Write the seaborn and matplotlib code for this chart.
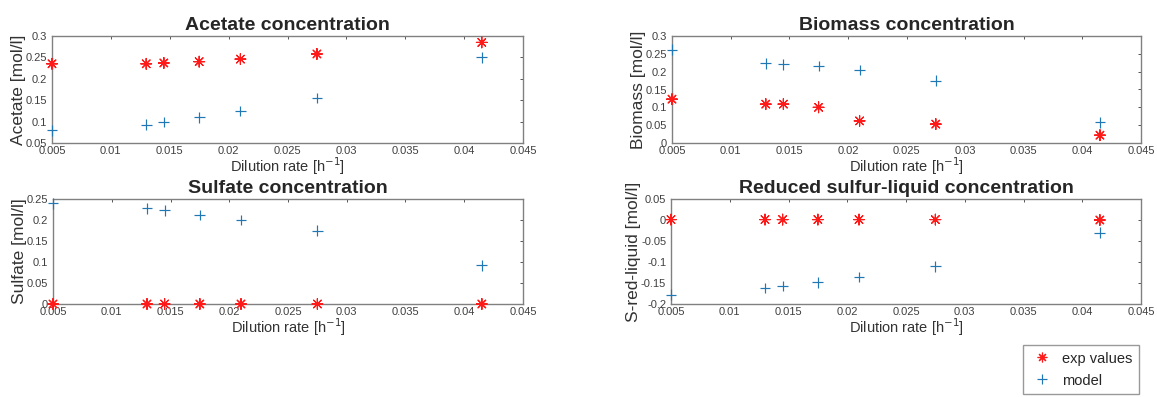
import numpy as np
import pandas as pd
import seaborn as sns
import matplotlib.pyplot as plt

# Dilution rates [1/h]
dilution = [0.005, 0.013, 0.0145, 0.0175, 0.021, 0.0275, 0.0415]

acetate_exp = [0.235, 0.235, 0.237, 0.240, 0.246, 0.258, 0.285]
acetate_model = [0.080, 0.093, 0.099, 0.110, 0.125, 0.155, 0.250]

biomass_exp = [0.123, 0.109, 0.109, 0.100, 0.062, 0.053, 0.022]
biomass_model = [0.262, 0.223, 0.221, 0.216, 0.205, 0.175, 0.058]

sulfate_exp = [0.0, 0.0, 0.0, 0.0, 0.0, 0.0, 0.0]
sulfate_model = [0.240, 0.228, 0.223, 0.212, 0.200, 0.175, 0.092]

sred_exp = [0.001, 0.001, 0.001, 0.001, 0.001, 0.001, 0.0]
sred_model = [-0.178, -0.162, -0.157, -0.148, -0.136, -0.110, -0.030]

titles = ["Acetate concentration", "Biomass concentration",
          "Sulfate concentration", "Reduced sulfur-liquid concentration"]
ylabels = ["Acetate [mol/l]", "Biomass [mol/l]", "Sulfate [mol/l]", "S-red-liquid [mol/l]"]
ylims = [(0.05, 0.3), (0, 0.3), (0, 0.25), (-0.2, 0.05)]

sns.set_style("white")
plt.rcParams['font.family'] = ['Liberation Sans', 'DejaVu Sans']

W, H = 1157, 397
fig = plt.figure(figsize=(W / 100, H / 100), dpi=100)

# axes boxes in pixels: left, top, right, bottom
boxes = [(52, 36, 523, 143), (672, 36, 1141, 143),
         (53, 199, 523, 304), (671, 199, 1141, 304)]

series = [(acetate_exp, acetate_model), (biomass_exp, biomass_model),
          (sulfate_exp, sulfate_model), (sred_exp, sred_model)]

red = "#ff1a1a"
blue = "#1f78b4"
asterisk = (8, 2, 0)

for i, (box, (exp, model)) in enumerate(zip(boxes, series)):
    l, t, r, b = box
    ax = fig.add_axes([l / W, 1 - b / H, (r - l) / W, (b - t) / H])
    df = pd.DataFrame({"D": dilution * 2,
                       "val": exp + model,
                       "kind": ["exp values"] * 7 + ["model"] * 7})
    sns.scatterplot(data=df, x="D", y="val", hue="kind", style="kind",
                    palette={"exp values": red, "model": blue},
                    markers={"exp values": asterisk, "model": "+"},
                    s=60, linewidth=0.85, ax=ax, legend=(i == 0),
                    zorder=3, clip_on=False)
    ax.set_xlim(0.005, 0.045)
    ax.set_ylim(*ylims[i])
    ax.set_xticks(np.arange(0.005, 0.0451, 0.005))
    ax.set_xticklabels(["0.005", "0.01", "0.015", "0.02", "0.025", "0.03", "0.035", "0.04", "0.045"])
    yt = np.round(np.arange(ylims[i][0], ylims[i][1] + 1e-9, 0.05), 3)
    ax.set_yticks(yt)
    ax.set_yticklabels([("%g" % v) if abs(v) > 1e-9 else "0" for v in yt])
    ax.tick_params(direction="in", top=True, right=True, labelsize=8,
                   length=2.5, width=0.7, colors="#555555", labelcolor="#404040")
    ax.tick_params(axis="x", pad=2)
    ax.tick_params(axis="y", pad=3.5)
    for s in ax.spines.values():
        s.set_color("#808080")
        s.set_linewidth(1.0)
    ax.set_title(titles[i], fontsize=14, fontweight="bold", pad=4)
    ax.set_xlabel("Dilution rate [h$^{-1}$]", fontsize=10.5, color="#333333", labelpad=0)
    ax.set_ylabel(ylabels[i], fontsize=12.5, color="#333333", labelpad=0)
    if i == 0:
        handles, labels = ax.get_legend_handles_labels()
        ax.get_legend().remove()

leg = fig.legend(handles, labels, loc="upper left",
                 bbox_to_anchor=(1023 / W, 1 - 345 / H), borderaxespad=0,
                 fontsize=10.5, frameon=True, fancybox=False, edgecolor="#808080",
                 handlelength=1.7, handletextpad=0.5, borderpad=0.45,
                 labelspacing=0.55, markerscale=0.9)
leg.get_frame().set_linewidth(1.0)

fig.savefig("out.png", dpi=100)
